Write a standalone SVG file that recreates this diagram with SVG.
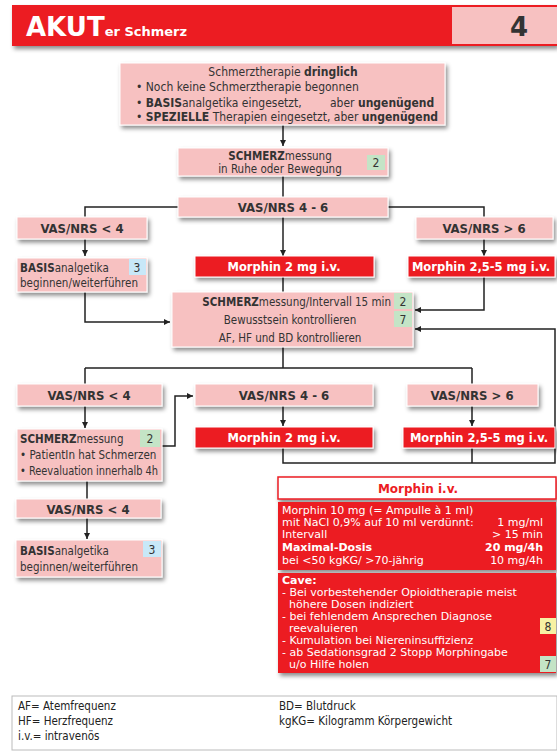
<svg xmlns="http://www.w3.org/2000/svg" width="557" height="751" viewBox="0 0 557 751">
<style>
.pk{fill:#f7c1c1;stroke:#fff;stroke-width:1}
.rd{fill:#ec1c24;stroke:#fff;stroke-width:1}
.gb{fill:#c4e4c6}
.bb{fill:#c8e8f8}
.yb{fill:#f7f1a3}
.t{font-family:"DejaVu Sans Condensed","DejaVu Sans",sans-serif;font-size:11.5px;fill:#333}
.t12{font-size:12px}
.b{font-weight:bold}
.v{font-family:"DejaVu Sans Condensed","DejaVu Sans",sans-serif;font-size:13px;font-weight:bold;fill:#333;text-anchor:middle}
.m{font-family:"DejaVu Sans","Verdana",sans-serif;font-size:11.5px;font-weight:bold;fill:#fff;text-anchor:middle}
.p{font-family:"DejaVu Sans","Verdana",sans-serif;font-size:11px;fill:#fff}
.bd{font-family:"DejaVu Sans Condensed","DejaVu Sans",sans-serif;font-size:12px;fill:#333;text-anchor:middle}
.c{fill:none;stroke:#222;stroke-width:1.5}
.l{font-family:"DejaVu Sans Condensed","DejaVu Sans",sans-serif;font-size:11.5px;fill:#222}
</style>
<defs>
<filter id="sh" x="-10%" y="-20%" width="125%" height="160%">
<feDropShadow dx="2" dy="3" stdDeviation="2" flood-color="#000" flood-opacity="0.45"/>
</filter>
<marker id="ar" viewBox="0 0 10 10" refX="10" refY="5" markerWidth="6" markerHeight="6" orient="auto" markerUnits="userSpaceOnUse">
<path d="M0,0 L10,5 L0,10 z" fill="#222"/>
</marker>
</defs>
<rect width="557" height="751" fill="#fff"/>

<g id="header">
<rect x="12" y="5" width="545" height="41" fill="#ec1c24" filter="url(#sh)"/>
<rect x="452" y="7" width="105" height="37" fill="#f7c1c1"/>
<text x="26" y="36" font-family="DejaVu Sans,sans-serif" font-weight="bold" font-size="26" fill="#fff">AKUT<tspan font-size="13">er Schmerz</tspan></text>
<text x="519" y="36" font-family="DejaVu Sans,sans-serif" font-weight="bold" font-size="26" fill="#333" text-anchor="middle">4</text>
</g>

<g id="connectors">
<path class="c" d="M283,125 V146" marker-end="url(#ar)"/>
<path class="c" d="M283,176 V197"/>
<path class="c" d="M178,207 H85 V217 M388,207 H484 V217"/>
<path class="c" d="M85,239 V256" marker-end="url(#ar)"/>
<path class="c" d="M283,217 V256" marker-end="url(#ar)"/>
<path class="c" d="M484,239 V256" marker-end="url(#ar)"/>
<path class="c" d="M283,277 V292"/>
<path class="c" d="M85,292 V322 H170" marker-end="url(#ar)"/>
<path class="c" d="M484,277 V310 H415" marker-end="url(#ar)"/>
<path class="c" d="M283,347 V368 M85,368 H472 M85,368 V384 M472,368 V384"/>
<path class="c" d="M85,406 V428" marker-end="url(#ar)"/>
<path class="c" d="M283,406 V426" marker-end="url(#ar)"/>
<path class="c" d="M472,406 V426" marker-end="url(#ar)"/>
<path class="c" d="M162,446 H175 V396 H193" marker-end="url(#ar)"/>
<path class="c" d="M283,448 V463 H555 V329 H415" marker-end="url(#ar)"/>
<path class="c" d="M472,448 V463"/>
<path class="c" d="M87,481 V499"/>
<path class="c" d="M87,518 V539" marker-end="url(#ar)"/>
</g>

<g id="n_top">
<rect class="pk" x="120" y="63" width="325" height="62" filter="url(#sh)"/>
<text class="t t12" x="283" y="76" text-anchor="middle">Schmerztherapie <tspan class="b">dringlich</tspan></text>
<text class="t t12" x="136" y="91">• Noch keine Schmerztherapie begonnen</text>
<text class="t t12" x="136" y="107">• <tspan class="b">BASIS</tspan>analgetika eingesetzt,</text>
<text class="t t12" x="330" y="107">aber <tspan class="b">ungenügend</tspan></text>
<text class="t t12" x="136" y="121">• <tspan class="b">SPEZIELLE</tspan> Therapien eingesetzt, aber <tspan class="b">ungenügend</tspan></text>
</g>

<g id="n_schmerz1">
<rect class="pk" x="178" y="148" width="210" height="28" filter="url(#sh)"/>
<text class="t" x="280" y="160" text-anchor="middle"><tspan class="b">SCHMERZ</tspan>messung</text>
<text class="t" x="280" y="173" text-anchor="middle">in Ruhe oder Bewegung</text>
<rect class="gb" x="367" y="155" width="18" height="15"/>
<text class="bd" x="376" y="167">2</text>
</g>

<g id="n_vas46a">
<rect class="pk" x="178" y="197" width="210" height="20" filter="url(#sh)"/>
<text class="v" x="283" y="212">VAS/NRS 4 - 6</text>
</g>
<g id="n_vas4a">
<rect class="pk" x="17" y="217" width="130" height="22" filter="url(#sh)"/>
<text class="v" x="82" y="233">VAS/NRS &lt; 4</text>
</g>
<g id="n_vas6a">
<rect class="pk" x="416" y="217" width="137" height="22" filter="url(#sh)"/>
<text class="v" x="484" y="233">VAS/NRS &gt; 6</text>
</g>

<g id="n_basis1">
<rect class="pk" x="17" y="258" width="130" height="34" filter="url(#sh)"/>
<rect class="bb" x="129" y="259" width="17" height="16"/>
<text class="bd" x="137" y="272">3</text>
<text class="t" x="20" y="272"><tspan class="b">BASIS</tspan>analgetika</text>
<text class="t" x="20" y="287">beginnen/weiterführen</text>
</g>
<g id="n_morph2a">
<rect class="rd" x="195" y="256" width="179" height="21" filter="url(#sh)"/>
<text class="m" x="284" y="271">Morphin 2 mg i.v.</text>
</g>
<g id="n_morph5a">
<rect class="rd" x="408" y="256" width="147" height="21" filter="url(#sh)"/>
<text class="m" x="481" y="271">Morphin 2,5-5 mg i.v.</text>
</g>

<g id="n_interval">
<rect class="pk" x="172" y="292" width="241" height="55" filter="url(#sh)"/>
<rect class="gb" x="394" y="293" width="18" height="16"/>
<text class="bd" x="403" y="306">2</text>
<rect class="gb" x="394" y="311" width="18" height="16"/>
<text class="bd" x="403" y="324">7</text>
<text class="t" x="391" y="306" text-anchor="end"><tspan class="b">SCHMERZ</tspan>messung/Intervall 15 min</text>
<text class="t" x="290" y="324" text-anchor="middle">Bewusstsein kontrollieren</text>
<text class="t" x="290" y="342" text-anchor="middle">AF, HF und BD kontrollieren</text>
</g>

<g id="n_vas4b">
<rect class="pk" x="17" y="384" width="145" height="22" filter="url(#sh)"/>
<text class="v" x="89" y="400">VAS/NRS &lt; 4</text>
</g>
<g id="n_vas46b">
<rect class="pk" x="195" y="384" width="178" height="22" filter="url(#sh)"/>
<text class="v" x="284" y="400">VAS/NRS 4 - 6</text>
</g>
<g id="n_vas6b">
<rect class="pk" x="407" y="384" width="131" height="22" filter="url(#sh)"/>
<text class="v" x="472" y="400">VAS/NRS &gt; 6</text>
</g>

<g id="n_schmerz2">
<rect class="pk" x="17" y="429" width="145" height="52" filter="url(#sh)"/>
<rect class="gb" x="140" y="430" width="20" height="17"/>
<text class="bd" x="150" y="443">2</text>
<text class="t" x="20" y="443"><tspan class="b">SCHMERZ</tspan>messung</text>
<text class="t" x="20" y="459" font-size="10.8">• PatientIn hat Schmerzen</text>
<text class="t" x="20" y="475" font-size="10.8" textLength="138" lengthAdjust="spacingAndGlyphs">• Reevaluation innerhalb 4h</text>
</g>
<g id="n_morph2b">
<rect class="rd" x="195" y="427" width="178" height="21" filter="url(#sh)"/>
<text class="m" x="284" y="442">Morphin 2 mg i.v.</text>
</g>
<g id="n_morph5b">
<rect class="rd" x="403" y="427" width="152" height="21" filter="url(#sh)"/>
<text class="m" x="479" y="442">Morphin 2,5-5 mg i.v.</text>
</g>

<g id="n_vas4c">
<rect class="pk" x="16" y="499" width="145" height="19" filter="url(#sh)"/>
<text class="v" x="88" y="514">VAS/NRS &lt; 4</text>
</g>
<g id="n_basis2">
<rect class="pk" x="16" y="540" width="146" height="37" filter="url(#sh)"/>
<rect class="bb" x="143" y="541" width="18" height="16"/>
<text class="bd" x="152" y="554">3</text>
<text class="t" x="20" y="555"><tspan class="b">BASIS</tspan>analgetika</text>
<text class="t" x="20" y="571">beginnen/weiterführen</text>
</g>

<g id="n_morphin_iv">
<g filter="url(#sh)">
<rect x="278" y="477" width="278" height="22" fill="#fff" stroke="#ec1c24" stroke-width="1.5"/>
<rect x="278" y="502" width="278" height="68" fill="#ec1c24"/>
<rect x="278" y="573" width="278" height="100" fill="#ec1c24"/>
</g>
<text x="418" y="493" font-family="DejaVu Sans,sans-serif" font-size="12" font-weight="bold" fill="#ec1c24" text-anchor="middle">Morphin i.v.</text>
<text class="p" x="282" y="514">Morphin 10 mg (= Ampulle à 1 ml)</text>
<text class="p" x="282" y="526">mit NaCl 0,9% auf 10 ml verdünnt:</text>
<text class="p" x="543" y="526" text-anchor="end">1 mg/ml</text>
<text class="p" x="282" y="538">Intervall</text>
<text class="p" x="543" y="538" text-anchor="end">&gt; 15 min</text>
<text class="p b" x="282" y="551" font-size="11.5">Maximal-Dosis</text>
<text class="p b" x="543" y="551" text-anchor="end" font-size="11.5">20 mg/4h</text>
<text class="p" x="282" y="564">bei  &lt;50 kgKG/ &gt;70-jährig</text>
<text class="p" x="543" y="564" text-anchor="end">10 mg/4h</text>
<text class="p b" x="282" y="584">Cave:</text>
<text class="p" x="282" y="596">- Bei vorbestehender Opioidtherapie meist</text>
<text class="p" x="289" y="608">höhere Dosen indiziert</text>
<text class="p" x="282" y="620">- bei fehlendem Ansprechen Diagnose</text>
<text class="p" x="289" y="632">reevaluieren</text>
<text class="p" x="282" y="644">- Kumulation bei Niereninsuffizienz</text>
<text class="p" x="282" y="656">- ab Sedationsgrad 2 Stopp Morphingabe</text>
<text class="p" x="289" y="668">u/o Hilfe holen</text>
<rect class="yb" x="540" y="618" width="16" height="16"/>
<text class="bd" x="548" y="631">8</text>
<rect class="gb" x="540" y="656" width="16" height="16"/>
<text class="bd" x="548" y="669">7</text>
</g>

<g id="legend">
<rect x="12" y="696" width="545" height="54" fill="#fff" stroke="#bbb" stroke-width="1"/>
<text class="l" x="18" y="710">AF= Atemfrequenz</text>
<text class="l" x="18" y="725">HF= Herzfrequenz</text>
<text class="l" x="18" y="740">i.v.= intravenös</text>
<text class="l" x="279" y="710">BD= Blutdruck</text>
<text class="l" x="279" y="725">kgKG= Kilogramm Körpergewicht</text>
</g>
</svg>
